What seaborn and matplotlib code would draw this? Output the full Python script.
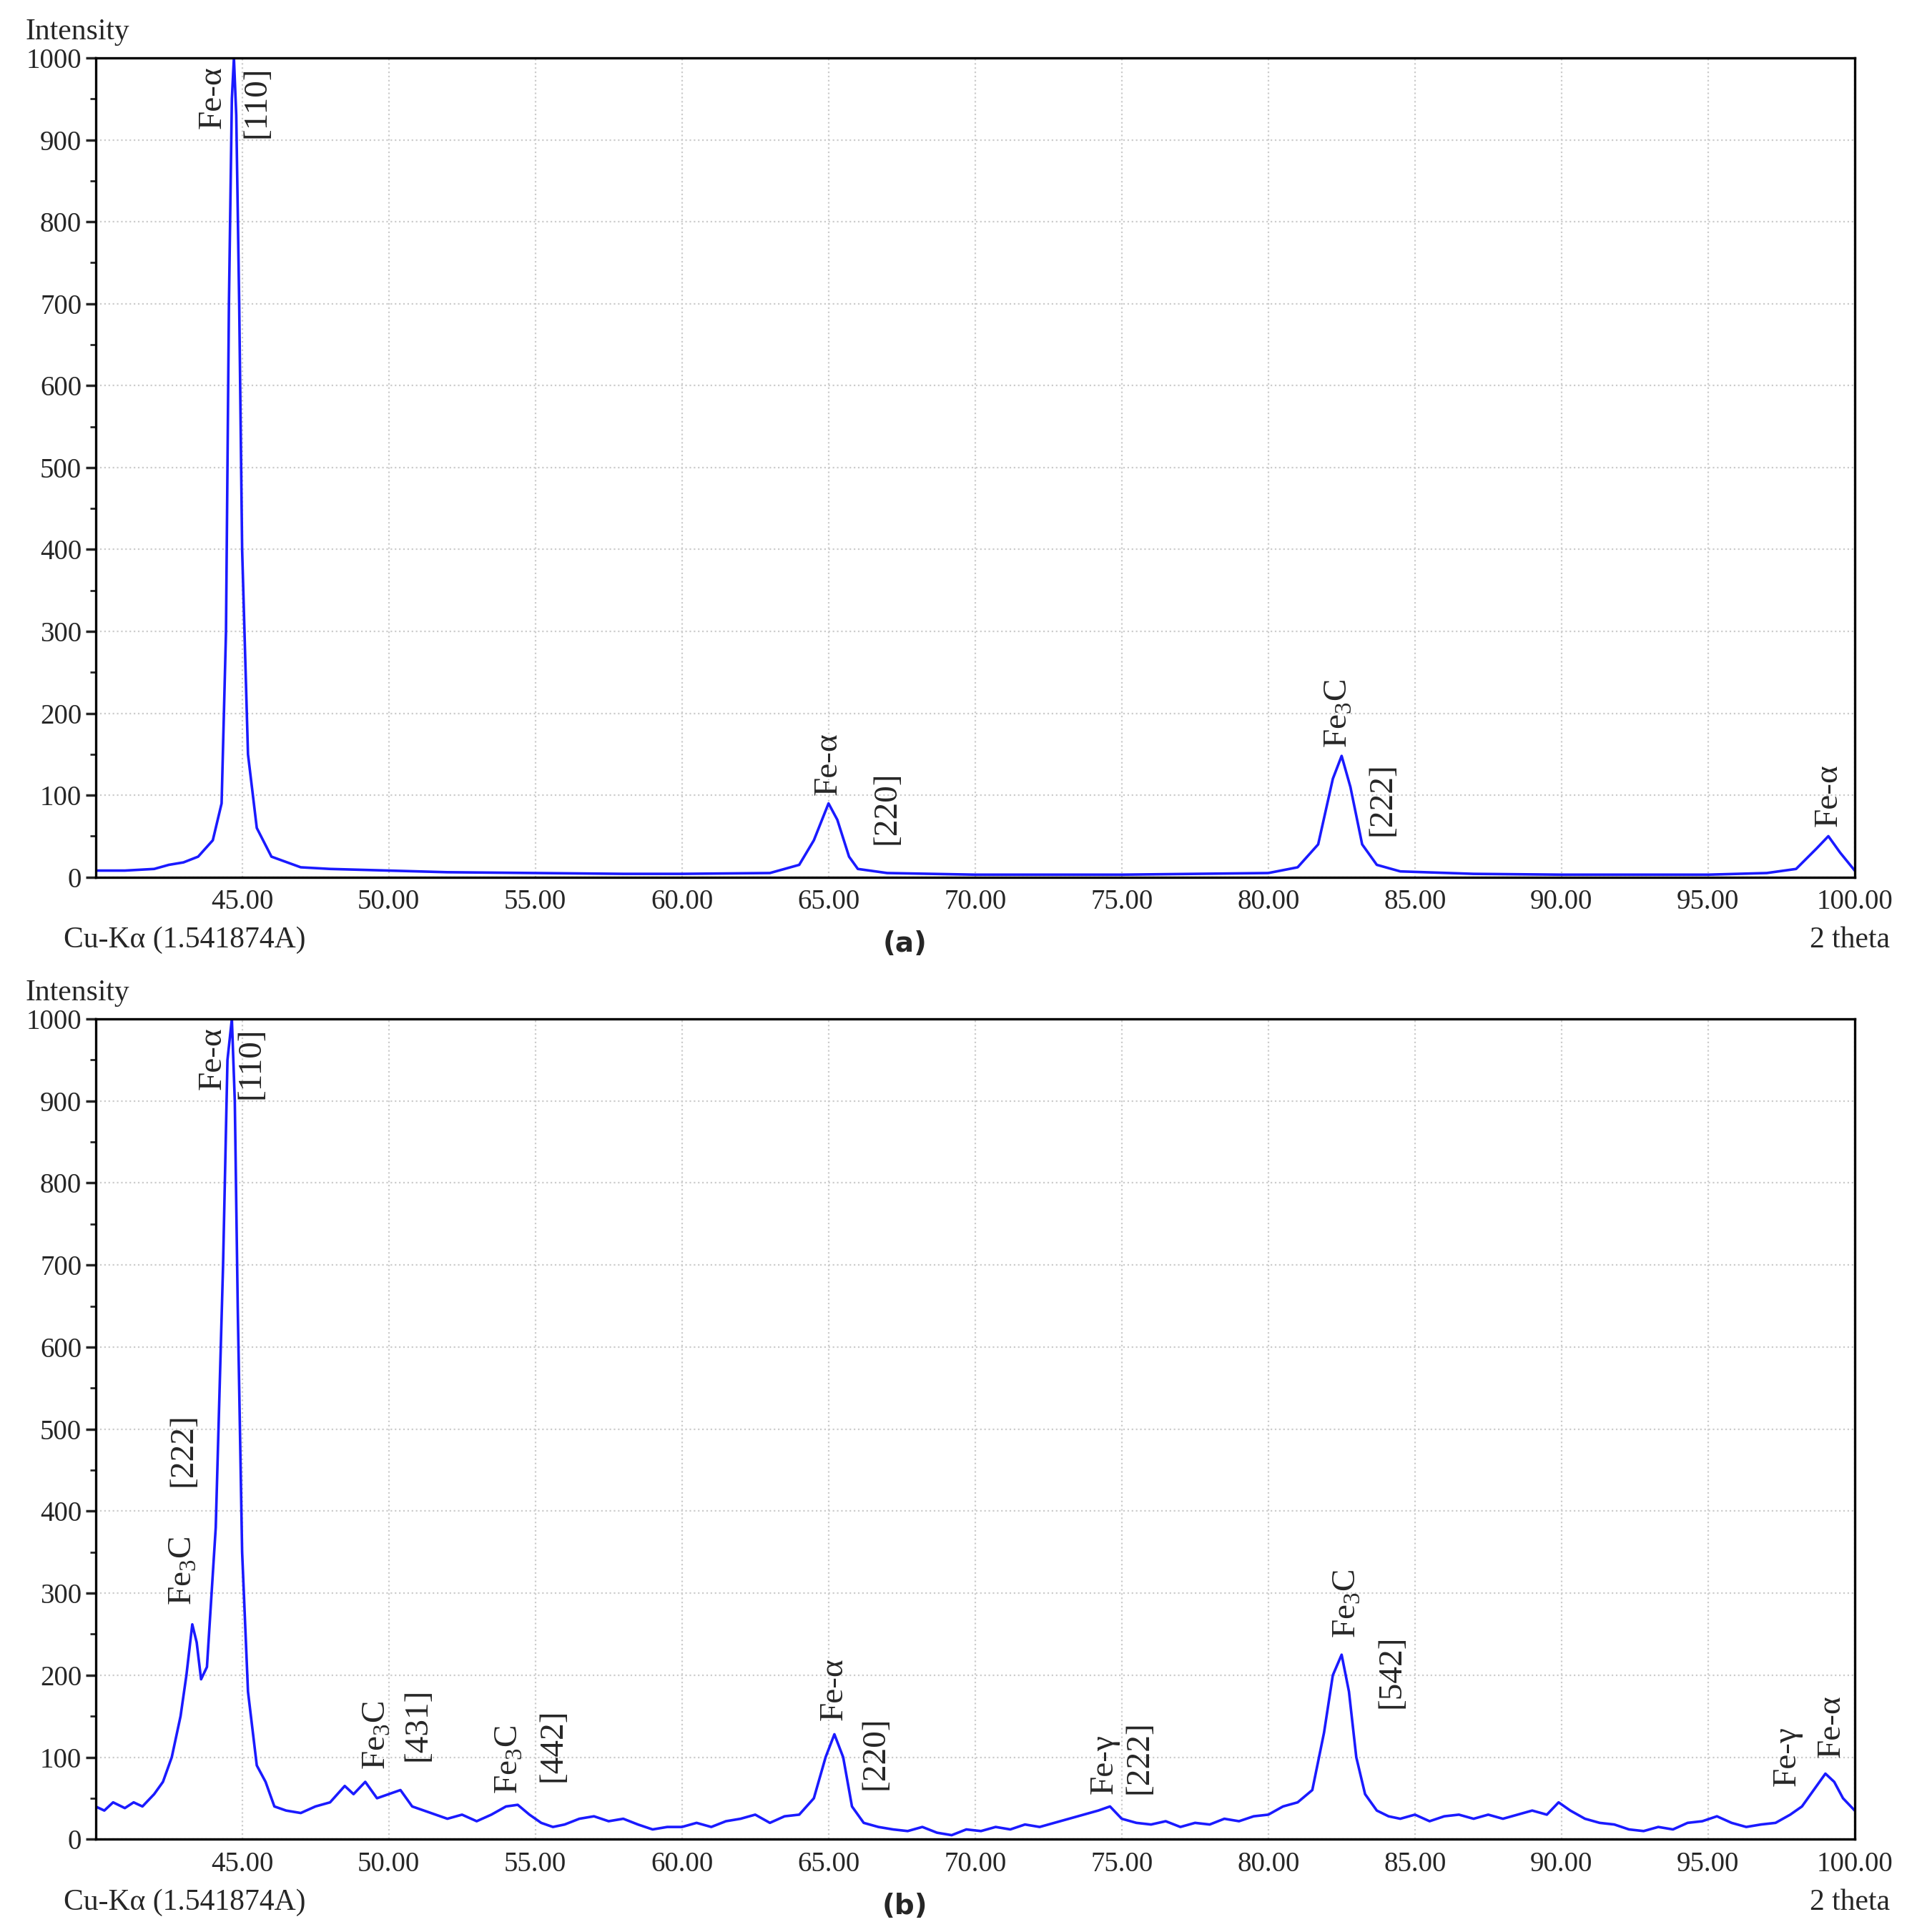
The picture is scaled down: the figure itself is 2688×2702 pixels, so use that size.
import matplotlib
matplotlib.use("Agg")
import matplotlib.pyplot as plt
import seaborn as sns
import pandas as pd

sns.set_theme(style="white")
plt.rcParams['font.family'] = ['Liberation Serif', 'DejaVu Serif']
plt.rcParams['mathtext.fontset'] = 'custom'
plt.rcParams['mathtext.rm'] = 'Liberation Serif'

# Panel (a) spectrum (2theta, intensity)
points_a = [(40, 8), (41, 8), (42, 10), (42.5, 15), (43, 18), (43.5, 25), (44, 45), (44.3, 90),
            (44.45, 300), (44.55, 700), (44.65, 950), (44.72, 1000), (44.8, 930), (44.9, 700),
            (45.0, 400), (45.2, 150), (45.5, 60), (46, 25), (47, 12), (48, 10), (50, 8), (52, 6),
            (55, 5), (58, 4), (60, 4), (63, 5), (64, 15), (64.5, 45), (65, 90), (65.3, 70),
            (65.7, 25), (66, 10), (67, 5), (70, 3), (75, 3), (80, 5), (81, 12), (81.7, 40),
            (82.2, 120), (82.5, 148), (82.8, 110), (83.2, 40), (83.7, 15), (84.5, 7), (87, 4),
            (90, 3), (95, 3), (97, 5), (98, 10), (98.7, 35), (99.1, 50), (99.5, 30), (100, 8)]

# Panel (b) spectrum (2theta, intensity)
points_b = [(40, 40), (40.3, 35), (40.6, 45), (41, 38), (41.3, 45), (41.6, 40), (42, 55), (42.3, 70),
            (42.6, 100), (42.9, 150), (43.1, 200), (43.3, 262), (43.45, 240), (43.6, 195), (43.8, 210),
            (44.1, 380), (44.35, 700), (44.5, 950), (44.65, 1000), (44.75, 900), (44.85, 650),
            (45.0, 350), (45.2, 180), (45.5, 90), (45.8, 70), (46.1, 40), (46.5, 35), (47, 32),
            (47.5, 40), (48, 45), (48.5, 65), (48.8, 55), (49.2, 70), (49.6, 50), (50, 55),
            (50.4, 60), (50.8, 40), (51.2, 35), (51.6, 30), (52, 25), (52.5, 30), (53, 22),
            (53.5, 30), (54, 40), (54.4, 42), (54.8, 30), (55.2, 20), (55.6, 15), (56, 18),
            (56.5, 25), (57, 28), (57.5, 22), (58, 25), (58.5, 18), (59, 12), (59.5, 15), (60, 15),
            (60.5, 20), (61, 15), (61.5, 22), (62, 25), (62.5, 30), (63, 20), (63.5, 28), (64, 30),
            (64.5, 50), (64.9, 100), (65.2, 128), (65.5, 100), (65.8, 40), (66.2, 20), (66.7, 15),
            (67.2, 12), (67.7, 10), (68.2, 15), (68.7, 8), (69.2, 5), (69.7, 12), (70.2, 10),
            (70.7, 15), (71.2, 12), (71.7, 18), (72.2, 15), (72.7, 20), (73.2, 25), (73.7, 30),
            (74.2, 35), (74.6, 40), (75, 25), (75.5, 20), (76, 18), (76.5, 22), (77, 15), (77.5, 20),
            (78, 18), (78.5, 25), (79, 22), (79.5, 28), (80, 30), (80.5, 40), (81, 45), (81.5, 60),
            (81.9, 130), (82.2, 200), (82.5, 225), (82.75, 180), (83.0, 100), (83.3, 55), (83.7, 35),
            (84.1, 28), (84.5, 25), (85, 30), (85.5, 22), (86, 28), (86.5, 30), (87, 25), (87.5, 30),
            (88, 25), (88.5, 30), (89, 35), (89.5, 30), (89.9, 45), (90.3, 35), (90.8, 25),
            (91.3, 20), (91.8, 18), (92.3, 12), (92.8, 10), (93.3, 15), (93.8, 12), (94.3, 20),
            (94.8, 22), (95.3, 28), (95.8, 20), (96.3, 15), (96.8, 18), (97.3, 20), (97.8, 30),
            (98.2, 40), (98.6, 60), (99.0, 80), (99.3, 70), (99.6, 50), (100, 35)]

theta_a = [p[0] for p in points_a]
int_a = [p[1] for p in points_a]
theta_b = [p[0] for p in points_b]
int_b = [p[1] for p in points_b]

x_ticks = [45, 50, 55, 60, 65, 70, 75, 80, 85, 90, 95, 100]
y_ticks = [0, 100, 200, 300, 400, 500, 600, 700, 800, 900, 1000]

ann_a = [("Fe-α", 44.0, 990, 'top'), ("[110]", 45.5, 990, 'top'),
         ("Fe-α", 65.0, 100, 'bottom'), ("[220]", 67.0, 40, 'bottom'),
         ("Fe$_3$C", 82.4, 158, 'bottom'), ("[222]", 83.9, 50, 'bottom'),
         ("Fe-α", 99.1, 62, 'bottom')]
ann_b = [("Fe-α", 44.0, 990, 'top'), ("[110]", 45.3, 990, 'top'),
         ("Fe$_3$C", 43.0, 285, 'bottom'), ("[222]", 43.0, 430, 'bottom'),
         ("Fe$_3$C", 49.6, 85, 'bottom'), ("[431]", 51.0, 95, 'bottom'),
         ("Fe$_3$C", 54.1, 55, 'bottom'), ("[442]", 55.6, 70, 'bottom'),
         ("Fe-α", 65.2, 145, 'bottom'), ("[220]", 66.6, 60, 'bottom'),
         ("Fe-γ", 74.4, 55, 'bottom'), ("[222]", 75.6, 55, 'bottom'),
         ("Fe$_3$C", 82.7, 245, 'bottom'), ("[542]", 84.2, 160, 'bottom'),
         ("Fe-γ", 97.7, 65, 'bottom'), ("Fe-α", 99.2, 100, 'bottom')]

fig = plt.figure(figsize=(13.44, 13.51), dpi=200)
axa = fig.add_axes([0.0497, 0.546, 0.9153, 0.424])
axb = fig.add_axes([0.0497, 0.048, 0.9153, 0.4246])

for ax, th, it, anns, lab in [(axa, theta_a, int_a, ann_a, "(a)"), (axb, theta_b, int_b, ann_b, "(b)")]:
    df = pd.DataFrame({"theta": th, "I": it})
    sns.lineplot(data=df, x="theta", y="I", ax=ax, color="#1a1aff", lw=1.3)
    ax.set_xlim(40, 100)
    ax.set_ylim(0, 1000)
    ax.set_xticks(x_ticks)
    ax.set_xticklabels([f"{t:.2f}" for t in x_ticks], fontsize=14)
    ax.set_yticks(y_ticks)
    ax.set_yticklabels([str(t) for t in y_ticks], fontsize=14)
    ax.set_yticks([50 + 100 * i for i in range(10)], minor=True)
    ax.tick_params(axis='y', which='both', direction='out', left=True, length=5, pad=2)
    ax.tick_params(axis='y', which='minor', length=3)
    ax.tick_params(axis='x', length=0, pad=6)
    ax.grid(True, which='major', linestyle=':', color='#cccccc', lw=0.8)
    for s in ax.spines.values():
        s.set_color('black'); s.set_linewidth(1.2)
    ax.set_xlabel(""); ax.set_ylabel("")
    ax.text(-0.04, 1.015, "Intensity", transform=ax.transAxes, fontsize=15, ha='left', va='bottom')
    ax.text(-0.018, -0.06, "Cu-Kα (1.541874A)", transform=ax.transAxes, fontsize=15, ha='left', va='top')
    ax.text(1.02, -0.06, "2 theta", transform=ax.transAxes, fontsize=15, ha='right', va='top')
    ax.text(0.46, -0.065, lab, transform=ax.transAxes, fontsize=14, ha='center', va='top',
            family='DejaVu Sans', fontweight='bold')
    for t, x, y, va in anns:
        ax.text(x, y, t, rotation=90, fontsize=17, ha='center', va=va)

fig.savefig("out.png", dpi=200)
